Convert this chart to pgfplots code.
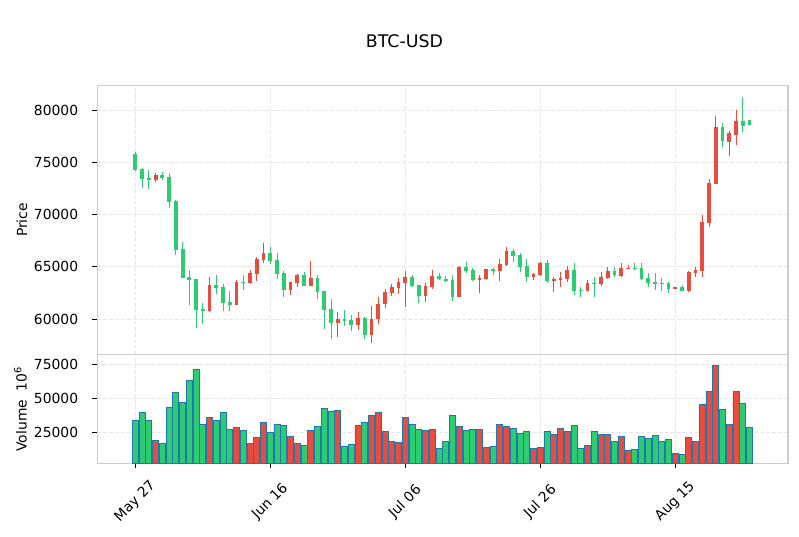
\documentclass[border=0pt]{standalone}
\usepackage{pgfplots}
\pgfplotsset{compat=1.18}
\usepackage{pgfplotstable}
\usepackage{fontspec}
\setmainfont{DejaVu Sans}
\definecolor{cgreen}{HTML}{2ECC71}
\definecolor{cred}{HTML}{E74C3C}
\definecolor{cblue}{HTML}{1F77B4}
\definecolor{gridc}{HTML}{E6E6E6}
\definecolor{framec}{HTML}{CCCCCC}

\pgfplotstableread{
d blo bhi lo hi v
0 74258 75789 74130 75949 33622
1 73429 74354 72503 74418 39533
2 73333 73493 72408 74226 33622
4 73524 73748 73301 74098 16627
5 71228 73588 70654 73939 43228
6 66602 71291 66124 71350 54311
7 63955 66698 63955 67336 46922
8 63763 64018 61306 64656 63178
9 60860 63827 59106 63827 71303
10 60796 60955 59488 61498 30666
12 62998 63253 62360 64177 33622
13 61562 63062 60764 63381 39533
14 61370 61626 60764 62711 26972
16 63508 63572 62743 64241 26233
20 65581 66315 65262 66858 24755
21 64305 65613 63795 66283 30666
22 62775 64401 62136 64624 29927
25 63189 64209 63189 64465 15149
27 62615 63923 61881 64177 29188
28 60860 62679 59010 62679 42489
29 59648 60955 58053 61881 40273
31 59840 60000 59329 60860 14410
32 59457 59903 58850 60350 15888
34 58500 60095 58053 60159 32144
41 63189 64018 63093 64177 30666
42 62232 63253 61498 63253 26972
45 63795 64114 63731 64369 12932
46 63636 63827 63572 64146 18106
47 62136 63731 61721 64241 37316
49 64624 64975 64369 65485 26233
50 63731 64656 63667 64912 26972
53 64624 64784 64209 64848 14410
56 66060 66506 65485 66666 27711
57 65006 66124 64529 66283 24016
58 64050 65070 63572 65709 25494
61 63636 65390 63476 65613 25494
65 62711 64688 62328 65358 29927
66 62711 62807 62136 63029 12932
68 63412 63476 62136 63987 25494
71 64209 64624 64050 64944 18106
74 64784 64912 64688 65358 12193
75 63827 64912 63731 65358 21799
76 63444 63891 63093 64369 20321
77 63380 63572 62775 64369 22538
78 63380 63444 62711 63891 18106
79 62871 63476 62455 63572 19583
81 62679 63062 62679 63285 8500
87 77033 78373 76491 78724 41750
90 78501 78947 77863 81244 46183
91 78597 79043 78597 79043 28450
}\greendata

\pgfplotstableread{
d blo bhi lo hi v
3 73301 73780 73078 73939 18844
11 60764 63253 60700 64050 35839
15 61370 63540 61338 63763 28450
17 63412 64433 63348 64656 16627
18 64305 65741 63604 65964 21060
19 65677 66315 65326 67240 32144
23 62775 63540 62296 63540 21799
24 63476 64209 63093 64305 16627
26 63189 63923 63189 65517 26233
30 59648 60000 58244 60637 41012
33 59457 60095 58913 60637 29927
35 58500 60000 57670 61211 37316
36 59967 61402 59488 62072 39533
37 61466 62583 61083 62871 25494
38 62519 63062 62200 63317 18106
39 62966 63572 62360 63891 17366
40 63476 64018 61179 64560 35839
43 62232 63157 61593 63444 26233
44 63093 64114 62871 64656 26972
48 62136 64975 62136 65070 29188
51 63731 63891 62455 64241 26972
52 63827 64784 63763 64784 13671
54 64624 65262 63667 65709 30666
55 65198 66506 65070 66858 29188
59 64050 64305 63731 64433 12932
60 64209 65390 64146 65485 13671
62 63667 63859 62615 64018 23277
63 63731 63923 63093 64529 27711
64 63827 64688 63508 65070 25494
67 62711 63476 62711 63700 15149
69 63348 64050 63189 64465 23277
70 63955 64624 63795 64944 23277
72 64114 64912 64018 65358 21799
73 64784 64912 64784 65166 11454
80 62871 63062 62839 63093 9239
82 62679 64529 62615 64592 21060
83 64433 64720 63987 64944 18106
84 64624 69250 64050 69951 45444
85 69186 73014 68835 73365 55050
86 72950 78373 72950 79425 74261
88 76969 77831 75566 77990 30666
89 77639 78947 76618 79968 55050
}\reddata

\pgfplotsset{
  mybase/.style={
    scale only axis,
    width=497.3pt,
    anchor=south west,
    xmin=-5.63, xmax=96.7,
    xtick={0,20,40,60,80},
    grid=major,
    major grid style={dash pattern=on 2.9pt off 1.4pt, line width=0.6pt, draw=gridc},
    axis line style={draw=framec, line width=0.8pt},
    tick align=outside,
    major tick length=3.5pt,
    tick style={draw=black, line width=0.6pt},
    xtick pos=bottom, ytick pos=left,
    scaled y ticks=false,
    tick label style={font=\fontsize{10}{12}\selectfont},
    label style={font=\fontsize{10}{12}\selectfont},
    yticklabel style={anchor=east, inner sep=0pt, xshift=-10.1pt},
  },
  wick/.style={no markers, draw=none, forget plot,
    mark options={draw=none, fill=none},
    error bars/.cd, y dir=both, y explicit, error mark=none,
    error bar style={line width=0.75pt, draw=#1, solid}},
  body/.style={no markers, draw=none, forget plot,
    mark options={draw=none, fill=none},
    error bars/.cd, y dir=both, y explicit, error mark=none,
    error bar style={line width=2.8pt, draw=#1, solid}},
}

\begin{document}
\begin{tikzpicture}
\begin{axis}[mybase,
  at={(70.06pt,130.54pt)},
  height=193.97pt,
  ymin=56584, ymax=82364,
  ytick={60000,65000,70000,75000,80000},
  yticklabels={60000,65000,70000,75000,80000},
  xticklabels={},
  xtick style={draw=none},
  ylabel={Price},
  ylabel style={at={(axis description cs:-0.109,0.5)}, anchor=center},
]
\addplot[wick=cgreen] table[x=d, y expr={(\thisrow{lo}+\thisrow{hi})/2}, y error expr={(\thisrow{hi}-\thisrow{lo})/2}] {\greendata};
\addplot[wick=cred] table[x=d, y expr={(\thisrow{lo}+\thisrow{hi})/2}, y error expr={(\thisrow{hi}-\thisrow{lo})/2}] {\reddata};
\addplot[body=cgreen] table[x=d, y expr={(\thisrow{blo}+\thisrow{bhi})/2}, y error expr={max((\thisrow{bhi}-\thisrow{blo})/2,40)}] {\greendata};
\addplot[body=cred] table[x=d, y expr={(\thisrow{blo}+\thisrow{bhi})/2}, y error expr={max((\thisrow{bhi}-\thisrow{blo})/2,40)}] {\reddata};
\end{axis}

\begin{axis}[mybase,
  at={(70.06pt,52.34pt)},
  height=78.19pt,
  ymin=1883, ymax=82090,
  ytick={25000,50000,75000},
  yticklabels={25000,50000,75000},
  xticklabels={May 27,Jun 16,Jul 06,Jul 26,Aug 15},
  xticklabel style={anchor=center, inner sep=0pt, yshift=-24.1pt, rotate=45},
  ylabel={Volume\ \ 10\textsuperscript{6}},
  ylabel style={at={(axis description cs:-0.1112,0.5)}, anchor=center},
]
\addplot[ybar, bar width=0.92, bar shift=0pt, fill=cgreen, draw=cblue, line width=0.6pt] table[x=d, y=v] {\greendata};
\addplot[ybar, bar width=0.92, bar shift=0pt, fill=cred, draw=cblue, line width=0.6pt] table[x=d, y=v] {\reddata};
\end{axis}

\node[font=\fontsize{12.5}{15}\selectfont, anchor=center] at (291.2pt,356.6pt) {BTC-USD};
\pgfresetboundingbox
\useasboundingbox (0,0) rectangle (575.28pt,385.92pt);
\end{tikzpicture}
\end{document}
